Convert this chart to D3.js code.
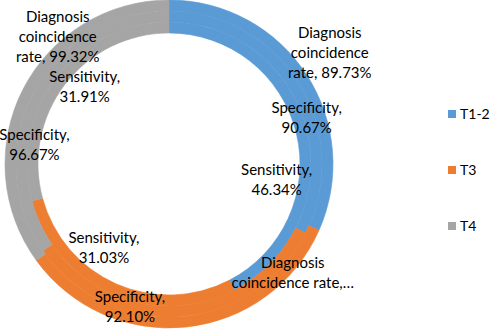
<!DOCTYPE html>
<html>
<head>
<meta charset="utf-8">
<script src="https://cdn.jsdelivr.net/npm/d3@7"></script>
<style>
  body { margin: 0; background: #fff; }
  text { font-family: Lato, "Open Sans", sans-serif; font-size: 15px; fill: #000; }
  .legend text { font-size: 14px; }
</style>
</head>
<body>
<div id="chart"></div>
<script>
// stages (categories) and the three metric series, one ring each (inner -> outer)
const stages = ['T1-2', 'T3', 'T4']
const sensitivity = [46.34, 31.03, 31.91]
const specificity = [90.67, 92.10, 96.67]
const coincidence = [89.73, 94.70, 99.32]
const metricNames = ['Sensitivity', 'Specificity', 'Diagnosis coincidence rate']

const series = [sensitivity, specificity, coincidence]

// hand moved data labels, as in the original: shift from each slice centroid
const labelNudge = [
  [[-25, 48], [-10, -41], [24, 6]],
  [[12, 31], [-49, -4], [-4, 49]],
  [[28, -25], [107, -49], [30, -55]]
]

const width = 491, height = 329
const cx = 169, cy = 164
const rHole = 131, ringW = 11
const colors = d3.scaleOrdinal().domain(stages).range(['#5B9BD5', '#ED7D31', '#A5A5A5'])

const svg = d3.select('#chart').append('svg')
  .attr('width', width)
  .attr('height', height)

const g = svg.append('g')
  .attr('transform', 'translate(' + cx + ',' + cy + ')')

const pie = d3.pie().sort(null).value(function(d) { return d.value })

function ringArc(ri) {
  return d3.arc()
    .innerRadius(rHole + ri * ringW)
    .outerRadius(rHole + (ri + 1) * ringW)
}

series.forEach(function(values, ri) {
  const arc = ringArc(ri)
  const slices = pie(values.map(function(v, i) { return { stage: stages[i], value: v } }))

  g.append('g').attr('class', 'ring')
    .selectAll('path')
    .data(slices)
    .enter().append('path')
      .attr('d', arc)
      .attr('fill', function(d) { return colors(d.data.stage) })
      .attr('stroke', function(d) { return colors(d.data.stage) })
      .attr('stroke-width', 0.6)
})

// labels drawn on top of all rings
series.forEach(function(values, ri) {
  const arc = ringArc(ri)
  const slices = pie(values.map(function(v, i) { return { stage: stages[i], value: v } }))

  slices.forEach(function(s, i) {
    const c = arc.centroid(s)
    const x = c[0] + labelNudge[ri][i][0]
    const y = c[1] + labelNudge[ri][i][1]
    const pct = values[i].toFixed(2) + '%'
    let lines
    if (ri === 2) {
      lines = i === 1 ? ['Diagnosis', 'coincidence rate,\u2026'] : ['Diagnosis', 'coincidence', 'rate, ' + pct]
    } else {
      lines = [metricNames[ri] + ',', pct]
    }
    const t = g.append('text')
      .attr('text-anchor', 'middle')
      .attr('x', x)
      .attr('y', y - (lines.length - 1) * 10)
    lines.forEach(function(l, k) {
      t.append('tspan')
        .attr('x', x)
        .attr('dy', k === 0 ? '0.35em' : 20)
        .text(l)
    })
  })
})

// legend
const legend = svg.append('g').attr('class', 'legend')
  .selectAll('g')
  .data(stages)
  .enter().append('g')
    .attr('transform', function(d, i) { return 'translate(448,' + (114 + i * 56) + ')' })

legend.append('rect')
  .attr('x', 0).attr('y', -4)
  .attr('width', 8).attr('height', 8)
  .attr('fill', function(d) { return colors(d) })

legend.append('text')
  .attr('x', 12)
  .attr('dy', '0.35em')
  .text(function(d) { return d })
</script>
</body>
</html>
